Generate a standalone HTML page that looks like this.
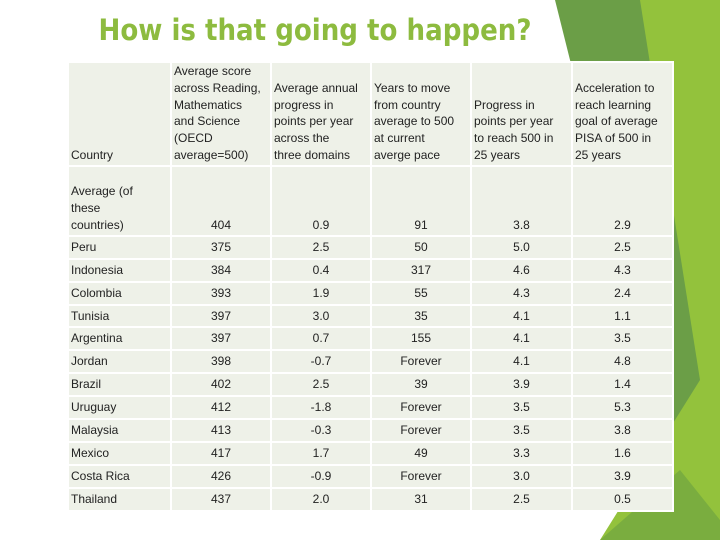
<!DOCTYPE html>
<html><head><meta charset="utf-8"><style>
body{margin:0;width:720px;height:540px;background:#fff;position:relative;overflow:hidden;font-family:"Liberation Sans",sans-serif}
#deco{position:absolute;left:0;top:0}
h1{position:absolute;left:0;width:630px;top:13px;margin:0;text-align:center;font-size:29px;font-weight:bold;color:#8dbb3f;font-family:"DejaVu Sans Condensed","DejaVu Sans",sans-serif}
table{position:absolute;left:67px;top:61px;width:605px;border-collapse:collapse;font-size:12px;color:#222;font-family:"Liberation Sans",sans-serif;table-layout:fixed}
td{background:#eef1e8;border:2px solid #fff;padding:0 2px 1px 2px;line-height:16.8px;vertical-align:bottom;overflow:hidden;white-space:nowrap}
td.n{text-align:center}
tr.h td{height:97px}
tr.a td{height:67px}
tr.r td{height:20.9px;line-height:20.9px;padding:0 2px 0 2px}
</style></head><body>
<svg id="deco" width="720" height="540">
<polygon points="555,0 720,0 720,540 640,540 660,330 575,80" fill="#6b9e47"/>
<polygon points="640,0 720,0 720,540 600,540 700,380" fill="#93c23c"/>
<polygon points="600,540 680,470 720,520 720,540" fill="#7aad3f"/>
</svg>
<h1>How is that going to happen?</h1>
<table>
<colgroup><col style="width:103px"><col style="width:100px"><col style="width:100px"><col style="width:100px"><col style="width:101px"><col style="width:101px"></colgroup>
<tr class="h"><td>Country</td><td>Average score<br>across Reading,<br>Mathematics<br>and Science<br>(OECD<br>average=500)</td><td>Average annual<br>progress in<br>points per year<br>across the<br>three domains</td><td>Years to move<br>from country<br>average to 500<br>at current<br>averge pace</td><td>Progress in<br>points per year<br>to reach 500 in<br>25 years</td><td>Acceleration to<br>reach learning<br>goal of average<br>PISA of 500 in<br>25 years</td></tr>
<tr class="a"><td>Average (of<br>these<br>countries)</td><td class="n">404</td><td class="n">0.9</td><td class="n">91</td><td class="n">3.8</td><td class="n">2.9</td></tr>
<tr class="r"><td>Peru</td><td class="n">375</td><td class="n">2.5</td><td class="n">50</td><td class="n">5.0</td><td class="n">2.5</td></tr>
<tr class="r"><td>Indonesia</td><td class="n">384</td><td class="n">0.4</td><td class="n">317</td><td class="n">4.6</td><td class="n">4.3</td></tr>
<tr class="r"><td>Colombia</td><td class="n">393</td><td class="n">1.9</td><td class="n">55</td><td class="n">4.3</td><td class="n">2.4</td></tr>
<tr class="r"><td>Tunisia</td><td class="n">397</td><td class="n">3.0</td><td class="n">35</td><td class="n">4.1</td><td class="n">1.1</td></tr>
<tr class="r"><td>Argentina</td><td class="n">397</td><td class="n">0.7</td><td class="n">155</td><td class="n">4.1</td><td class="n">3.5</td></tr>
<tr class="r"><td>Jordan</td><td class="n">398</td><td class="n">-0.7</td><td class="n">Forever</td><td class="n">4.1</td><td class="n">4.8</td></tr>
<tr class="r"><td>Brazil</td><td class="n">402</td><td class="n">2.5</td><td class="n">39</td><td class="n">3.9</td><td class="n">1.4</td></tr>
<tr class="r"><td>Uruguay</td><td class="n">412</td><td class="n">-1.8</td><td class="n">Forever</td><td class="n">3.5</td><td class="n">5.3</td></tr>
<tr class="r"><td>Malaysia</td><td class="n">413</td><td class="n">-0.3</td><td class="n">Forever</td><td class="n">3.5</td><td class="n">3.8</td></tr>
<tr class="r"><td>Mexico</td><td class="n">417</td><td class="n">1.7</td><td class="n">49</td><td class="n">3.3</td><td class="n">1.6</td></tr>
<tr class="r"><td>Costa Rica</td><td class="n">426</td><td class="n">-0.9</td><td class="n">Forever</td><td class="n">3.0</td><td class="n">3.9</td></tr>
<tr class="r"><td>Thailand</td><td class="n">437</td><td class="n">2.0</td><td class="n">31</td><td class="n">2.5</td><td class="n">0.5</td></tr>
</table>
</body></html>
